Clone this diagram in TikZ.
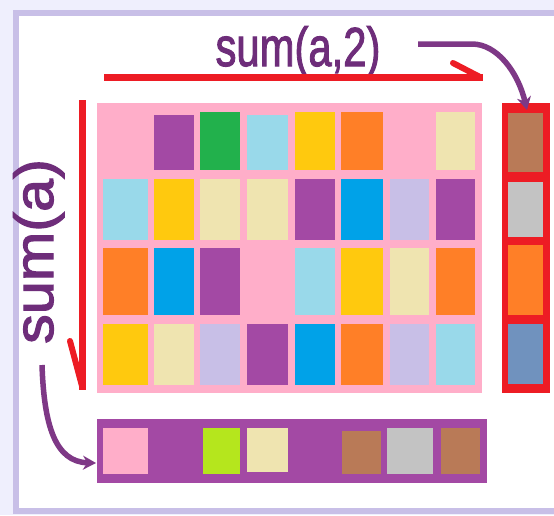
\documentclass[tikz,border=0pt]{standalone}
\usepackage{fontspec}
\setmainfont{Liberation Sans}
\newfontfamily\labelfont[FakeBold=2]{Liberation Sans}
\usetikzlibrary{arrows.meta}
\definecolor{bgout}{HTML}{EFEFFD}
\definecolor{frm}{HTML}{C8BFE7}
\definecolor{pk}{HTML}{FFAEC9}
\definecolor{pu}{HTML}{A349A4}
\definecolor{gr}{HTML}{22B14C}
\definecolor{lb}{HTML}{99D9EA}
\definecolor{ye}{HTML}{FFC90E}
\definecolor{or}{HTML}{FF7F27}
\definecolor{be}{HTML}{EFE4B0}
\definecolor{lv}{HTML}{C8BFE7}
\definecolor{bl}{HTML}{00A2E8}
\definecolor{li}{HTML}{B5E61D}
\definecolor{br}{HTML}{B97A57}
\definecolor{gy}{HTML}{C3C3C3}
\definecolor{sb}{HTML}{7092BE}
\definecolor{rd}{HTML}{ED1C24}
\definecolor{tx}{HTML}{6E2D7A}
\definecolor{ar}{HTML}{7E3886}
\tikzset{
  box/.style={rectangle, inner sep=0pt, outer sep=0pt, anchor=north west},
  txt/.style={text=tx, inner sep=0pt, font=\labelfont\fontsize{55}{60}\selectfont},
  redline/.style={draw=rd, line width=7pt},
  barb/.style={draw=rd, line width=6pt, line cap=round},
  purplearrow/.style={draw=ar, line width=5.5pt, -{Stealth[length=13pt,width=14pt]}}
}
\begin{document}
\begin{tikzpicture}[x=1pt,y=-1pt]
\useasboundingbox (0,0) rectangle (554,515);
\fill[bgout] (0,0) rectangle (554,515);
\draw[frm, line width=6pt, fill=white] (16,12.5) rectangle (590,511);

% main matrix
\node[box, fill=pk, minimum width=385pt, minimum height=290pt] (mat) at (97,103) {};
\foreach \xa/\xb/\ya/\yb/\cc in {
  154/194/115/170/pu, 200/240/112/170/gr, 247/288/115/170/lb, 295/335/112/170/ye,
  341/383/112/170/or, 436/475/112/170/be,
  103/148/179/240/lb, 154/194/179/240/ye, 200/240/179/240/be, 247/288/179/240/be,
  295/335/179/240/pu, 341/383/179/240/bl, 390/429/179/240/lv, 436/475/179/240/pu,
  103/148/248/315/or, 154/194/248/315/bl, 200/240/248/315/pu,
  295/335/248/315/lb, 341/383/248/315/ye, 390/429/248/315/be, 436/475/248/315/or,
  103/148/324/385/ye, 154/194/324/385/be, 200/240/324/385/lv, 247/288/324/385/pu,
  295/335/324/385/bl, 341/383/324/385/or, 390/429/324/385/lv, 436/475/324/385/lb}
  {\fill[\cc] (\xa,\ya) rectangle (\xb,\yb);}

% right column (sum along rows)
\node[box, fill=rd, minimum width=48pt, minimum height=290pt] (rcol) at (502,103) {};
\foreach \ya/\yb/\cc in {113/172/br, 182/237/gy, 245/315/or, 324/384/sb}
  {\fill[\cc] (508,\ya) rectangle (543,\yb);}

% bottom bar (sum along columns)
\node[box, fill=pu, minimum width=390pt, minimum height=64pt] (bcol) at (97,419) {};
\foreach \xa/\xb/\ya/\yb/\cc in {103/148/428/474/pk, 203/240/428/474/li, 247/288/428/472/be,
  342/381/431/474/br, 387/433/428/474/gy, 441/480/428/474/br}
  {\fill[\cc] (\xa,\ya) rectangle (\xb,\yb);}

% labels
\node[txt, anchor=base] (s2) at (298,66) {\scalebox{0.76}[1]{sum(a,2)}};
\node[txt, anchor=base, rotate=90] (s1) at (53,251.5) {\scalebox{1.08}[1]{sum(a)}};

% red direction arrows
\coordinate (ta) at (104,77);
\coordinate (tb) at (483,77);
\coordinate (tc) at (453,63);
\coordinate (td) at (480,77);
\draw[redline] (ta) -- (tb);
\draw[barb] (tc) -- (td);
\coordinate (la) at (82.5,100);
\coordinate (lb) at (82.5,390);
\coordinate (lc) at (70,341);
\coordinate (ld) at (82,386);
\draw[redline] (la) -- (lb);
\draw[barb] (lc) -- (ld);

% purple arrows
\coordinate (p1) at (418,44);
\coordinate (p2) at (472,44);
\coordinate (p3) at (527,110);
\draw[purplearrow] (p1) -- (p2) .. controls (497,44) and (518,72) .. (p3);
\coordinate (q1) at (42,365);
\coordinate (q2) at (96,463);
\draw[purplearrow] (q1) .. controls (44,425) and (55,462) .. (q2);
\end{tikzpicture}
\end{document}
